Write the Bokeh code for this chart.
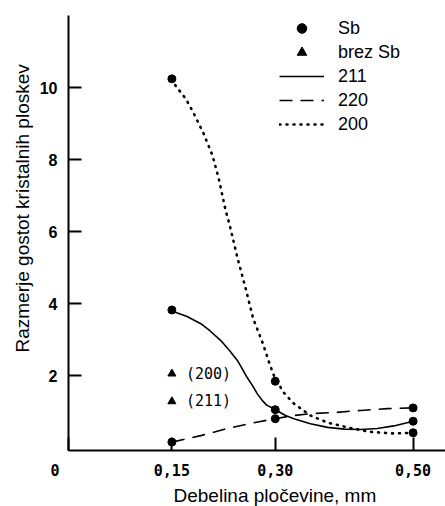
from bokeh.plotting import figure
from bokeh.models import Range1d, FixedTicker, Legend, LegendItem, Title, CustomJSTickFormatter
from bokeh.core.properties import value
from bokeh.embed import file_html
from bokeh.resources import INLINE

# ---- data ----
x_points = [0.15, 0.30, 0.50]
sb_211 = [3.82, 1.05, 0.73]
sb_220 = [0.15, 0.80, 1.10]
sb_200 = [10.24, 1.84, 0.41]

brez_x = [0.15, 0.15]
brez_y = [2.05, 1.28]
brez_labels = ["(200)", "(211)"]

# traced curve shapes
c200_x = [0.15, 0.155, 0.170, 0.181, 0.196, 0.209, 0.218, 0.228, 0.234, 0.245, 0.257,
          0.268, 0.282, 0.292, 0.298, 0.312, 0.327, 0.351, 0.376, 0.405, 0.435, 0.472, 0.50]
c200_y = [10.24, 10.06, 9.69, 9.31, 8.72, 8.11, 7.47, 6.58, 6.17, 5.28, 4.42,
          3.58, 2.89, 2.31, 2.00, 1.53, 1.22, 0.89, 0.69, 0.56, 0.44, 0.39, 0.41]

c211_x = [0.15, 0.155, 0.172, 0.192, 0.206, 0.221, 0.233, 0.245, 0.252, 0.259, 0.267,
          0.274, 0.281, 0.288, 0.296, 0.30, 0.315, 0.327, 0.351, 0.376, 0.400, 0.424,
          0.448, 0.472, 0.50]
c211_y = [3.82, 3.76, 3.64, 3.44, 3.23, 2.97, 2.71, 2.42, 2.19, 1.95, 1.72,
          1.49, 1.31, 1.17, 1.10, 1.05, 0.89, 0.80, 0.66, 0.56, 0.51, 0.50,
          0.53, 0.60, 0.73]

c220_x = [0.15, 0.192, 0.231, 0.269, 0.30, 0.327, 0.351, 0.385, 0.424, 0.463, 0.50]
c220_y = [0.15, 0.33, 0.53, 0.69, 0.80, 0.89, 0.94, 0.97, 1.03, 1.08, 1.10]

x_tick_values = [0.0, 0.15, 0.30, 0.50]
y_tick_values = [2, 4, 6, 8, 10]
x_title = "Debelina pločevine, mm"
y_title = "Razmerje gostot kristalnih ploskev"

SANS = "Liberation Sans"
MONO = "DejaVu Sans Mono"

p = figure(width=445, height=506, output_backend="svg", toolbar_location=None,
           x_range=Range1d(0, 0.547), y_range=Range1d(-0.083, 12.0),
           min_border_left=68, min_border_right=0, min_border_top=15, min_border_bottom=56)
p.outline_line_color = None
p.grid.grid_line_color = None
p.background_fill_color = "white"

# axes
for ax in (p.xaxis[0], p.yaxis[0]):
    ax.axis_line_width = 2
    ax.axis_line_color = "black"
    ax.major_tick_line_width = 2
    ax.major_tick_line_color = "black"
    ax.major_tick_in = 13
    ax.major_tick_out = 0
    ax.minor_tick_line_color = None
    ax.major_label_text_color = "black"

p.xaxis.ticker = FixedTicker(ticks=x_tick_values)
# the origin label sits left of the corner in the reference: pad it so it is drawn there
p.xaxis.formatter = CustomJSTickFormatter(
    code="if (tick == 0) { return '0\u00a0\u00a0\u00a0'; } return tick.toFixed(2).replace('.', ',');")
p.xaxis.major_label_text_font = MONO
p.xaxis.major_label_text_font_style = "bold"
p.xaxis.major_label_text_font_size = "15px"
p.xaxis.major_label_standoff = 11

p.yaxis.ticker = FixedTicker(ticks=y_tick_values)
p.yaxis.major_label_text_font = SANS
p.yaxis.major_label_text_font_style = "bold"
p.yaxis.major_label_text_font_size = "16px"
p.yaxis.major_label_standoff = 11

# curves
l211 = p.line(c211_x, c211_y, line_color="black", line_width=1.6)
l220 = p.line(c220_x, c220_y, line_color="black", line_width=1.6, line_dash="13 8")
l200 = p.line(c200_x, c200_y, line_color="black", line_width=2.6, line_dash="1 6", line_cap="round")

# points
all_x = x_points * 3
all_y = sb_211 + sb_220 + sb_200
sb = p.scatter(all_x, all_y, marker="circle", size=8, fill_color="black", line_color="black")
brez = p.scatter(brez_x, brez_y, marker="triangle", size=8, fill_color="black", line_color="black")
p.text(brez_x, brez_y, text=brez_labels, x_offset=14, text_baseline="middle", text_align="left",
       text_font=value(MONO), text_font_size="15px", text_color="black")

# legend
legend = Legend(items=[
    LegendItem(label="Sb", renderers=[sb]),
    LegendItem(label="brez Sb", renderers=[brez]),
    LegendItem(label="211", renderers=[l211]),
    LegendItem(label="220", renderers=[l220]),
    LegendItem(label="200", renderers=[l200]),
], location=(211, 314), orientation="vertical")
legend.glyph_width = 45
legend.glyph_height = 24
legend.label_height = 24
legend.spacing = 0
legend.padding = 0
legend.margin = 0
legend.label_standoff = 14
legend.label_text_font = SANS
legend.label_text_font_size = "18px"
legend.label_text_color = "black"
legend.border_line_color = None
legend.background_fill_alpha = 0
p.add_layout(legend, "center")

# axis titles
p.add_layout(Title(text=x_title, align="left", offset=105, text_font=SANS, text_font_size="19px",
                   text_font_style="normal", text_color="black", standoff=0), "below")
p.add_layout(Title(text=y_title, align="left", offset=98, text_font=SANS, text_font_size="19px",
                   text_font_style="normal", text_color="black", standoff=7), "left")

open("out.html", "w").write(file_html(p, INLINE))
